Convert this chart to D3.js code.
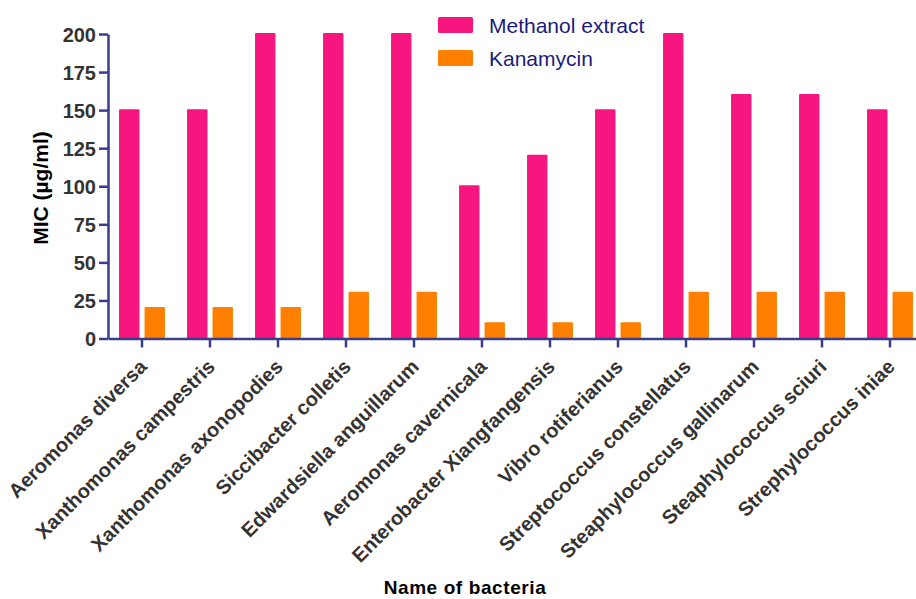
<!DOCTYPE html>
<html>
<head>
<meta charset="utf-8">
<script src="https://cdn.jsdelivr.net/npm/d3@7"></script>
<style>
  html, body { margin: 0; padding: 0; background: #fff; }
  svg { display: block; font-family: Arial, "Liberation Sans", sans-serif; }
</style>
</head>
<body>
<svg id="chart" width="916" height="599"></svg>
<script>
const categories = [
  "Aeromonas diversa",
  "Xanthomonas campestris",
  "Xanthomonas axonopodies",
  "Siccibacter colletis",
  "Edwardsiella anguillarum",
  "Aeromonas cavernicala",
  "Enterobacter Xiangfangensis",
  "Vibro rotiferianus",
  "Streptococcus constellatus",
  "Steaphylococcus gallinarum",
  "Steaphylococcus sciuri",
  "Strephylococcus iniae"
];
const seriesNames = ["Methanol extract", "Kanamycin"];
const methanolValues = [150, 150, 200, 200, 200, 100, 120, 150, 200, 160, 160, 150];
const kanamycinValues = [20, 20, 20, 30, 30, 10, 10, 10, 30, 30, 30, 30];
const yTicks = [0, 25, 50, 75, 100, 125, 150, 175, 200];
const seriesColors = ["#f7157f", "#ff8000"];

const svg = d3.select("#chart");
const axisColor = "#383e88";
const labelColor = "#333333";

const x0 = d3.scaleBand().domain(categories).range([108, 924]).padding(0);
const x1 = d3.scaleBand().domain(seriesNames).range([0, x0.bandwidth()])
  .paddingInner(0.2).paddingOuter(0.433);
const y = d3.scaleLinear().domain([0, 200]).range([338.5, 34]);
const color = d3.scaleOrdinal().domain(seriesNames).range(seriesColors);

const data = categories.map((c, i) => ({
  cat: c,
  vals: [
    { s: seriesNames[0], v: methanolValues[i] },
    { s: seriesNames[1], v: kanamycinValues[i] }
  ]
}));

// bars
const groups = svg.append("g").selectAll("g")
  .data(data).join("g")
  .attr("transform", d => `translate(${x0(d.cat)},0)`);
groups.selectAll("rect")
  .data(d => d.vals).join("rect")
  .attr("x", d => x1(d.s))
  .attr("y", d => y(d.v) - 1)
  .attr("width", x1.bandwidth())
  .attr("height", d => y(0) - y(d.v) + 1)
  .attr("rx", 1)
  .attr("fill", d => color(d.s));

// y axis
const yAxis = svg.append("g")
  .attr("transform", "translate(108,0)")
  .call(d3.axisLeft(y).tickValues(yTicks).tickSize(9).tickPadding(3).tickSizeOuter(0));
yAxis.select(".domain").attr("stroke", axisColor).attr("stroke-width", 2.5);
yAxis.selectAll(".tick line").attr("stroke", axisColor).attr("stroke-width", 2.5);
yAxis.selectAll(".tick text")
  .attr("fill", labelColor)
  .attr("font-size", 20)
  .attr("font-weight", "bold")
  .attr("font-family", "Arial, 'Liberation Sans', sans-serif")
  .attr("dy", "0.36em");

// x axis
const xAxis = svg.append("g")
  .attr("transform", `translate(0,${y(0)})`)
  .call(d3.axisBottom(x0).tickSize(9).tickSizeOuter(0).tickFormat(""));
xAxis.select(".domain").attr("stroke", axisColor).attr("stroke-width", 2.5);
xAxis.selectAll(".tick line").attr("stroke", axisColor).attr("stroke-width", 2.5);

// x labels rotated
svg.append("g").selectAll("text")
  .data(categories).join("text")
  .attr("transform", d => `translate(${x0(d) + x0.bandwidth() / 2 + 6},368) rotate(-45)`)
  .attr("text-anchor", "end")
  .attr("fill", labelColor)
  .attr("font-size", 20)
  .attr("font-weight", "bold")
  .text(d => d);

// axis titles
svg.append("text")
  .attr("transform", "translate(48,188) rotate(-90)")
  .attr("text-anchor", "middle")
  .attr("fill", "#000")
  .attr("font-size", 21)
  .attr("font-weight", "bold")
  .text("MIC (µg/ml)");

svg.append("text")
  .attr("x", 465)
  .attr("y", 594)
  .attr("text-anchor", "middle")
  .attr("fill", "#000")
  .attr("font-size", 19)
  .attr("font-weight", "bold")
  .attr("letter-spacing", "0.6")
  .text("Name of bacteria");

// legend
const legend = svg.append("g").selectAll("g")
  .data(seriesNames).join("g")
  .attr("transform", (d, i) => `translate(438,${17 + i * 33})`);
legend.append("rect")
  .attr("width", 35).attr("height", 16).attr("rx", 1.5)
  .attr("fill", d => color(d));
legend.append("text")
  .attr("x", 51).attr("y", 16)
  .attr("fill", "#1b1b7d")
  .attr("font-size", 21)
  .text(d => d);
</script>
</body>
</html>
